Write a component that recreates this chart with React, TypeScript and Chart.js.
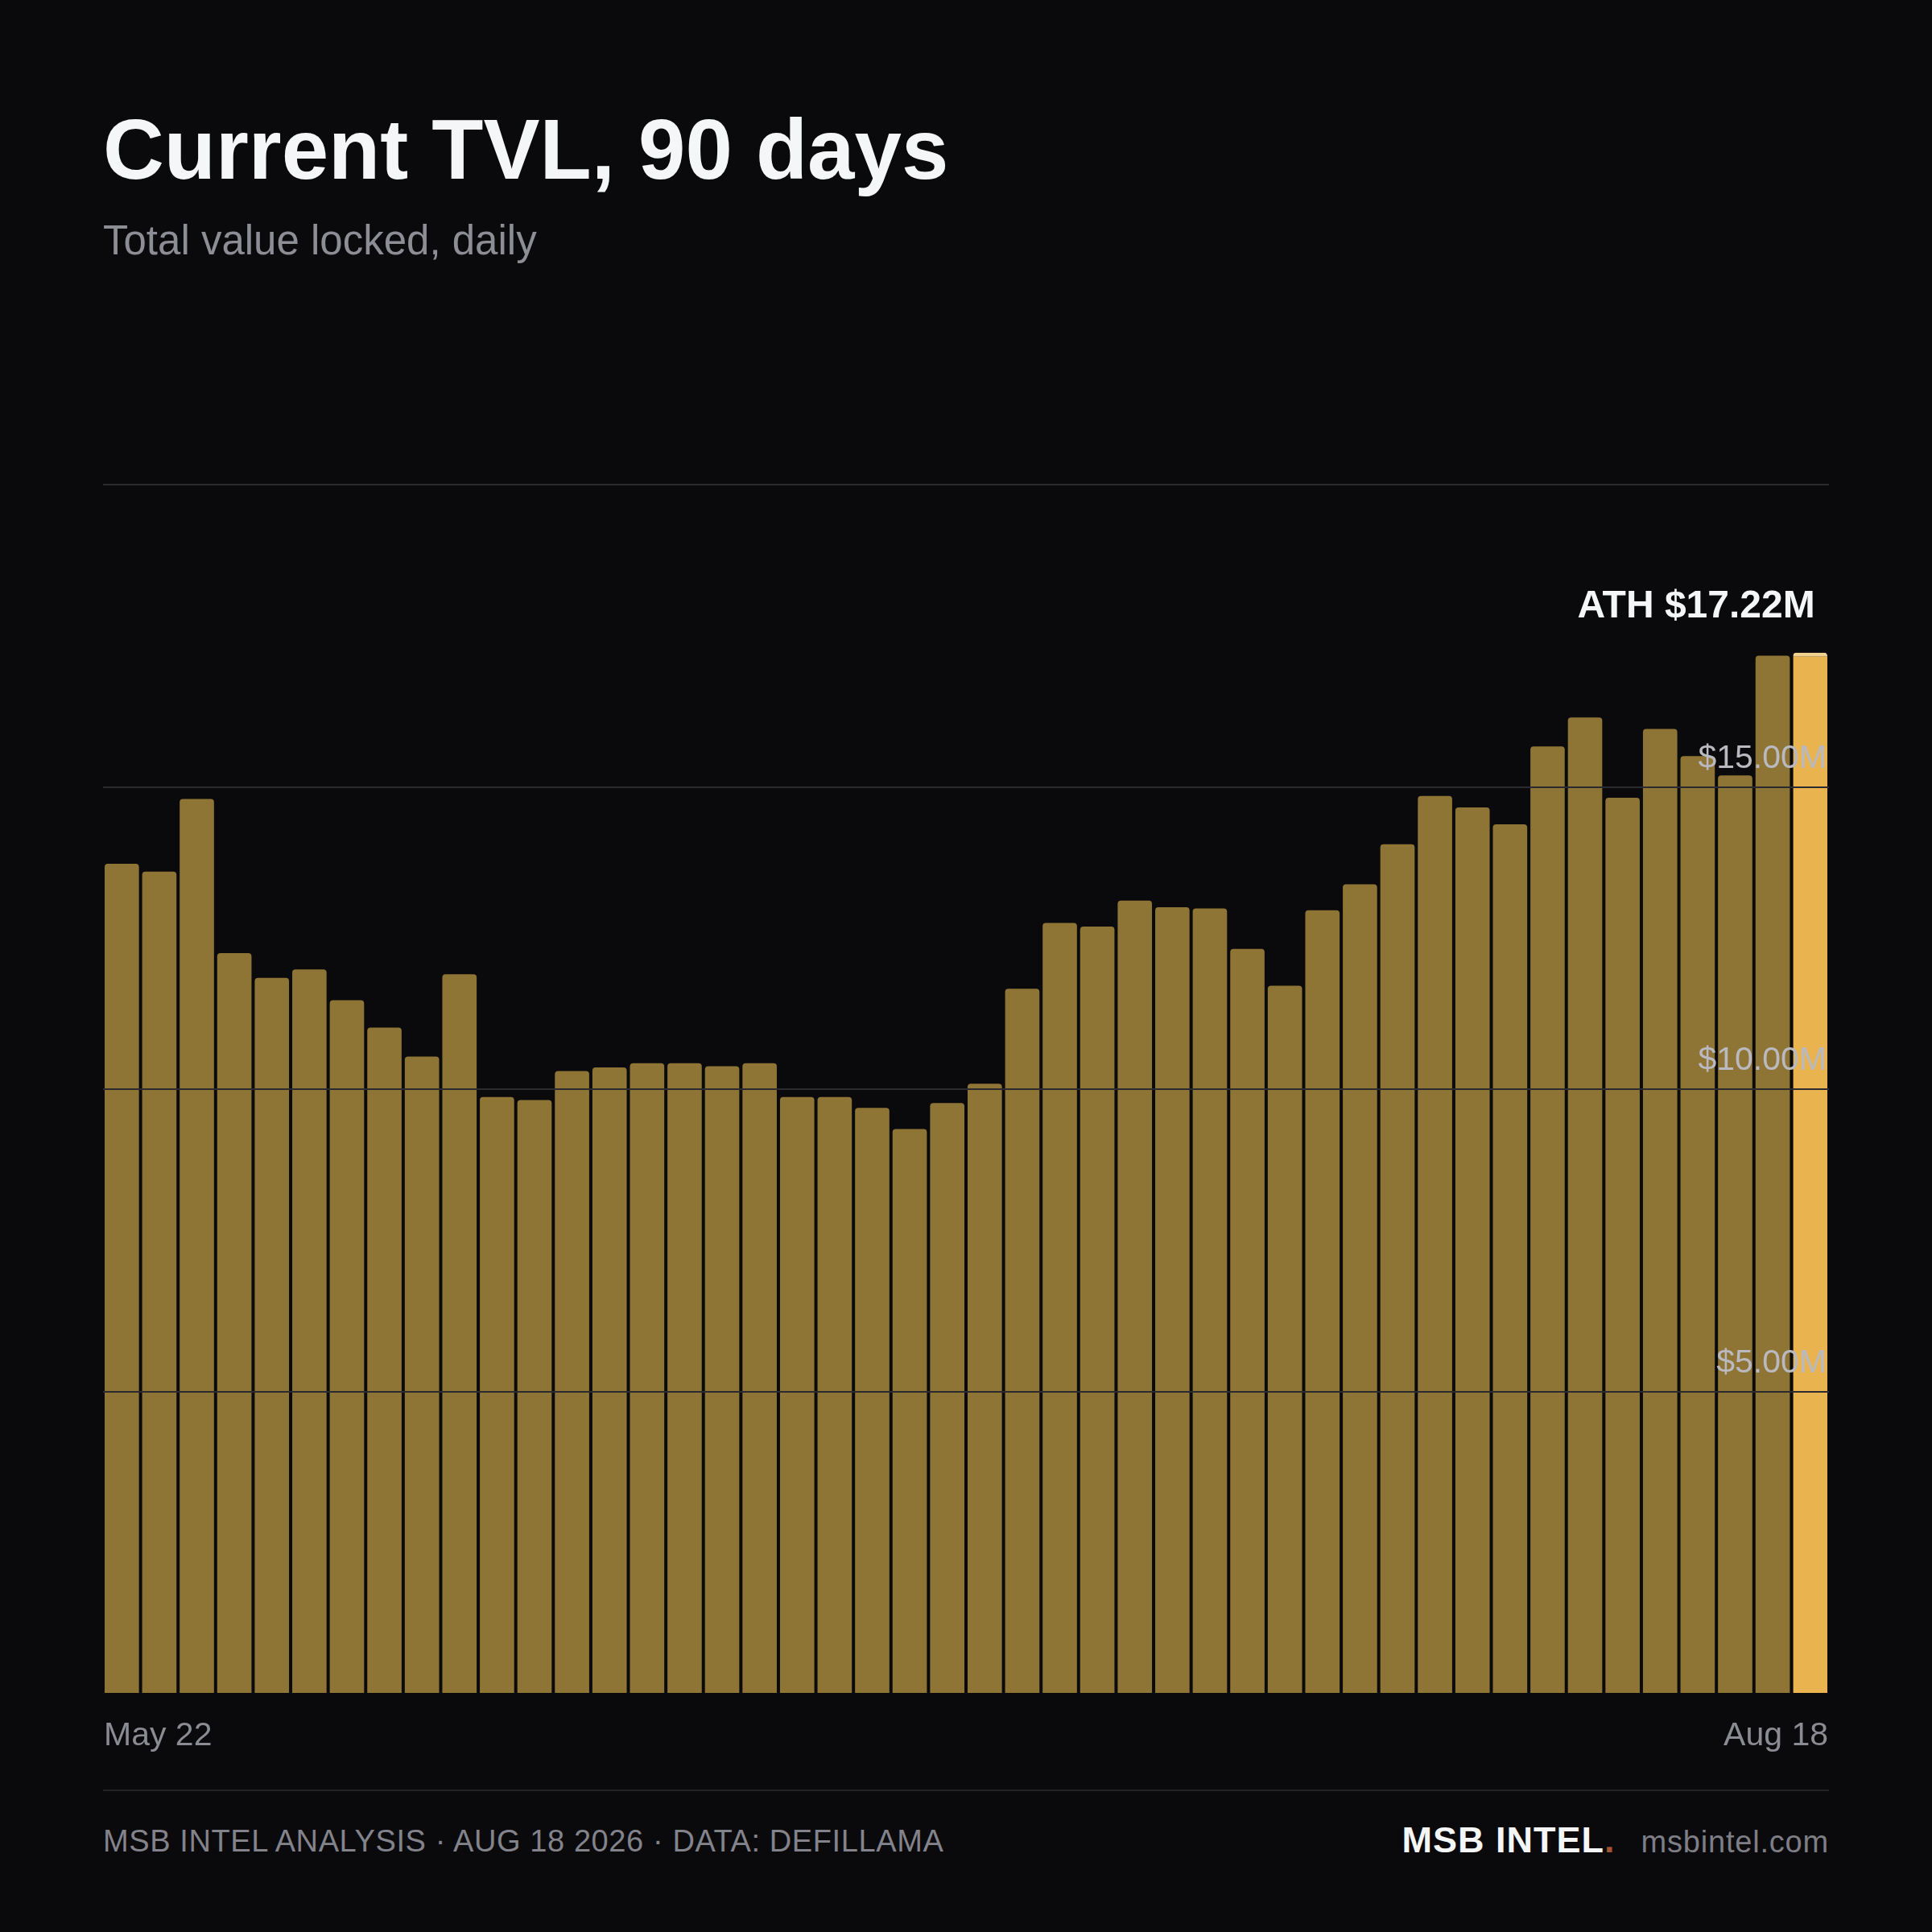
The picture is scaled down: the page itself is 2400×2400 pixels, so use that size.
import React, { useEffect, useRef } from 'react'
import { Chart, registerables } from 'chart.js'

Chart.register(...registerables)

const FONT = '"Liberation Sans", Arial, Helvetica, sans-serif'

// every second day, last two days daily
const dates = [
  'May 22', 'May 24', 'May 26', 'May 28', 'May 30',
  'Jun 1', 'Jun 3', 'Jun 5', 'Jun 7', 'Jun 9', 'Jun 11', 'Jun 13', 'Jun 15',
  'Jun 17', 'Jun 19', 'Jun 21', 'Jun 23', 'Jun 25', 'Jun 27', 'Jun 29',
  'Jul 1', 'Jul 3', 'Jul 5', 'Jul 7', 'Jul 9', 'Jul 11', 'Jul 13', 'Jul 15',
  'Jul 17', 'Jul 19', 'Jul 21', 'Jul 23', 'Jul 25', 'Jul 27', 'Jul 29', 'Jul 31',
  'Aug 2', 'Aug 4', 'Aug 6', 'Aug 8', 'Aug 10', 'Aug 12', 'Aug 14', 'Aug 16',
  'Aug 17', 'Aug 18',
]

// TVL in $M
const tvl = [
  13.73, 13.6, 14.8, 12.25, 11.84, 11.98, 11.47, 11.02, 10.54, 11.9,
  9.87, 9.82, 10.3, 10.36, 10.43, 10.43, 10.38, 10.43, 9.87, 9.87,
  9.69, 9.34, 9.77, 10.09, 11.66, 12.75, 12.69, 13.12, 13.01, 12.99,
  12.32, 11.71, 12.96, 13.39, 14.05, 14.85, 14.66, 14.38, 15.67, 16.15,
  14.82, 15.96, 15.51, 15.19, 17.17, 17.22,
]

const yLabelled = [5, 10, 15]
const yMax = 20

const BAR = '#8e7435'
const LATEST = '#e9b34f'

const athLabel = {
  id: 'athLabel',
  afterDraw(chart: any) {
    const peak = Math.max(...tvl)
    const i = tvl.lastIndexOf(peak)
    const bar = chart.getDatasetMeta(0).data[i]
    if (!bar) return
    const ctx = chart.ctx
    ctx.save()
    ctx.font = `bold 48px ${FONT}`
    ctx.fillStyle = '#f5f6f8'
    ctx.textAlign = 'right'
    ctx.textBaseline = 'alphabetic'
    ctx.fillText(`ATH $${peak.toFixed(2)}M`, bar.x + 6, bar.y - 44)
    ctx.restore()
  },
}

const edgeDates = {
  id: 'edgeDates',
  afterDraw(chart: any) {
    const { ctx, chartArea } = chart
    const labels = chart.data.labels as string[]
    const y = chartArea.bottom + 64
    ctx.save()
    ctx.font = `41px ${FONT}`
    ctx.fillStyle = '#8b8b93'
    ctx.textBaseline = 'alphabetic'
    ctx.textAlign = 'left'
    ctx.fillText(labels[0], chartArea.left + 1, y)
    ctx.textAlign = 'right'
    ctx.fillText(labels[labels.length - 1], chartArea.right - 1, y)
    ctx.restore()
  },
}

const TvlChart = () => {
  const canvasRef = useRef<HTMLCanvasElement | null>(null)

  useEffect(() => {
    if (!canvasRef.current) return
    const last = tvl.length - 1
    const chart = new Chart(canvasRef.current, {
      type: 'bar',
      data: {
        labels: dates,
        datasets: [
          {
            data: tvl,
            backgroundColor: tvl.map((_, i) => (i === last ? LATEST : BAR)),
            borderColor: '#f2d08f',
            borderWidth: (c: any) =>
              c.dataIndex === last ? { top: 5, left: 0, right: 0, bottom: 0 } : 0,
            borderRadius: 4,
            borderSkipped: 'start',
            barPercentage: 0.915,
            categoryPercentage: 1,
          },
        ],
      },
      options: {
        animation: false,
        responsive: true,
        maintainAspectRatio: false,
        layout: { padding: { top: 40, bottom: 100, left: 0, right: 20 } },
        plugins: {
          legend: { display: false },
          tooltip: { enabled: false },
        },
        scales: {
          x: { display: false },
          y: {
            position: 'right',
            min: 0,
            max: yMax,
            border: { display: false },
            grid: {
              z: 1,
              drawTicks: false,
              lineWidth: 2,
              color: (c: any) => (c.tick && c.tick.value === 0 ? 'rgba(0,0,0,0)' : '#2a2a2f'),
            },
            ticks: {
              z: 2,
              stepSize: 5,
              mirror: true,
              padding: -3,
              labelOffset: -35,
              color: '#b9b9bf',
              font: { size: 41, family: FONT },
              callback: (v: any) => (yLabelled.includes(v) ? `$${Number(v).toFixed(2)}M` : ''),
            },
          },
        },
      },
      plugins: [athLabel, edgeDates],
    })

    return () => chart.destroy()
  }, [])

  return (
    <div style={{ position: 'absolute', left: 128, top: 562, width: 2164, height: 1642 }}>
      <canvas ref={canvasRef} />
    </div>
  )
}

const App = () => {
  return (
    <div
      style={{
        position: 'relative',
        width: 2400,
        height: 2400,
        background: '#0a0a0c',
        fontFamily: FONT,
        overflow: 'hidden',
      }}
    >
      <style>{'body{margin:0;background:#0a0a0c}'}</style>
      <div
        style={{
          position: 'absolute', left: 128, top: 133, fontSize: 105, lineHeight: '105px',
          fontWeight: 700, color: '#f5f6f8', whiteSpace: 'nowrap',
        }}
      >
        Current TVL, 90 days
      </div>
      <div
        style={{
          position: 'absolute', left: 128, top: 273, fontSize: 51, lineHeight: '51px',
          color: '#8d8d95', whiteSpace: 'nowrap',
        }}
      >
        Total value locked, daily
      </div>

      <TvlChart />

      <div style={{ position: 'absolute', left: 128, top: 2223, width: 2144, height: 2, background: '#232327' }} />
      <div
        style={{
          position: 'absolute', left: 128, top: 2268, fontSize: 38, lineHeight: '38px',
          letterSpacing: 0.6, color: '#83838b', whiteSpace: 'nowrap',
        }}
      >
        MSB INTEL ANALYSIS · AUG 18 2026 · DATA: DEFILLAMA
      </div>
      <div
        style={{
          position: 'absolute', left: 0, width: 2272, top: 2263, fontSize: 45, lineHeight: '45px',
          textAlign: 'right', whiteSpace: 'nowrap',
        }}
      >
        <span style={{ fontWeight: 700, color: '#f5f6f8', letterSpacing: 1 }}>
          MSB INTEL<span style={{ color: '#a0552f' }}>.</span>
        </span>
        <span style={{ fontSize: 38, color: '#7e7e86', letterSpacing: 0.8, marginLeft: 32 }}>
          msbintel.com
        </span>
      </div>
    </div>
  )
}

export default App
